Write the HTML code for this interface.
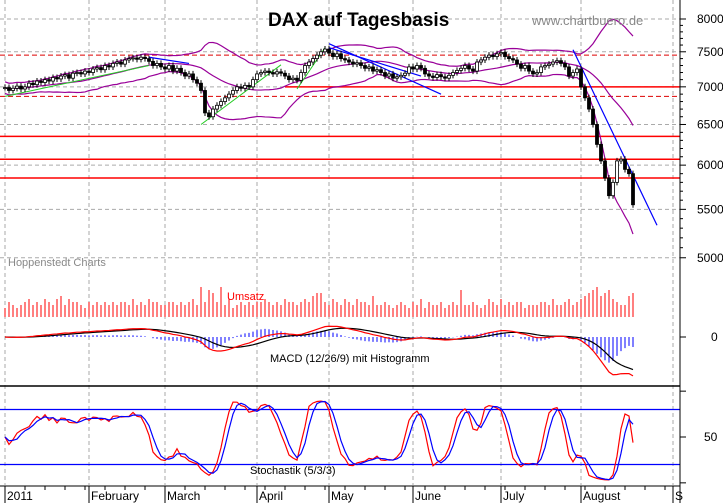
<!DOCTYPE html>
<html><head><meta charset="utf-8"><style>
html,body{margin:0;padding:0;background:#fff;}
svg{display:block;font-family:"Liberation Sans",sans-serif;}
</style></head><body>
<svg id="c" width="723" height="503" viewBox="0 0 723 503" xmlns="http://www.w3.org/2000/svg">
<rect width="723" height="503" fill="#fff"/>
<g id="grid"></g>
<g id="levels"></g>
<g id="bands"></g>
<g id="trend"></g>
<g id="candles"></g>
<g id="vol"></g>
<g id="macd"></g>
<g id="stoch"></g>
<g id="axes"></g>
<text x="268" y="26" font-size="19" font-weight="bold" fill="#000">DAX  auf Tagesbasis</text>
<text x="532" y="25" font-size="13" fill="#888">www.chartbuero.de</text>
<text x="8" y="266" font-size="11" fill="#888">Hoppenstedt Charts</text>
<text x="227" y="300" font-size="11" fill="#f00">Umsatz</text>
<text x="270" y="362" font-size="11" fill="#000">MACD (12/26/9) mit Histogramm</text>
<text x="250" y="474" font-size="11" fill="#000">Stochastik (5/3/3)</text>
</svg>
<script>
const closes=[6990,6950,6980,7010,6970,7000,7050,7030,7080,7060,7100,7080,7130,7110,7150,7170,7120,7190,7200,7180,
7220,7200,7250,7270,7240,7300,7280,7330,7350,7320,7380,7400,7410,7390,7420,7400,7360,7300,7330,7280,
7250,7300,7220,7260,7200,7150,7180,7100,7050,6950,6650,6600,6700,6750,6800,6850,6900,6950,7000,6980,
7020,7000,7100,7180,7200,7220,7200,7180,7210,7190,7150,7100,7120,7090,7200,7300,7350,7400,7450,7500,
7540,7480,7430,7470,7400,7380,7350,7320,7340,7300,7260,7280,7220,7240,7200,7150,7180,7120,7140,7160,
7190,7280,7250,7300,7260,7180,7150,7130,7170,7140,7120,7160,7200,7230,7260,7300,7250,7220,7350,7380,
7420,7450,7430,7470,7490,7430,7400,7380,7320,7260,7300,7220,7180,7200,7280,7300,7320,7350,7370,7330,
7280,7150,7200,7250,7000,6850,6700,6500,6250,6050,5850,5650,5800,6050,6070,5950,5900,5550];
const volumes=[3,5,4,3,4,5,6,4,5,4,6,5,4,6,7,4,6,5,5,4,
3,5,4,5,4,5,4,5,4,5,5,4,6,4,5,4,6,5,5,4,
4,5,5,4,5,4,5,6,4,10,5,9,8,5,10,4,6,3,4,5,
4,5,4,5,5,6,5,4,5,4,6,5,5,4,5,6,5,7,8,8,
5,4,6,5,4,6,5,4,6,5,5,4,7,4,4,5,4,3,4,5,
4,3,5,4,6,3,5,4,4,5,3,4,5,4,9,4,4,5,4,3,
4,6,5,4,6,4,5,4,5,5,3,4,4,4,5,5,4,6,4,4,
5,6,4,5,6,7,8,9,10,7,8,9,6,5,4,4,7,8];
const priceTicks=[8000,7500,7000,6500,6000,5500,5000];
const monthLabels=["2011","February","March","April","May","June","July","August","S"];
const monthStarts=[0,21,40,63,81,102,124,144,167];
const solidLevels=[7000,6350,6070,5850];
const dashedLevels=[7450,6870];
const greenLines=[[0,6870,36,7300],[49,6500,69,7310],[73,6970,80,7560]];
const blueLines=[[81,7620,109,6900],[81,7560,104,7150],[142,7530,163,5330],[36,7420,46,7330]];

const NS="http://www.w3.org/2000/svg";
function mk(tag,attrs,parent){const e=document.createElementNS(NS,tag);for(const k in attrs)e.setAttribute(k,attrs[k]);document.getElementById(parent).appendChild(e);return e;}
const X=i=>5+4*i;
const PY=v=>19+508*Math.log(8000/v);
const AX=680;

priceTicks.forEach(v=>{const l=mk('line',{x1:0,x2:AX,y1:PY(v),y2:PY(v),stroke:'#aaa','stroke-dasharray':'4,3'},'grid');

});
monthStarts.forEach(m=>{const l=mk('line',{x1:X(m),x2:X(m),y1:0,y2:485,stroke:'#aaa','stroke-dasharray':'4,3'},'grid');

});
mk('line',{x1:0,x2:AX,y1:PY(6070),y2:PY(6070),stroke:'#888'},'grid');

solidLevels.forEach((v,k)=>{const l=mk('line',{x1:k==0?X(70):0,x2:AX,y1:PY(v),y2:PY(v),stroke:'#f00','stroke-width':1.5},'levels');

});
dashedLevels.forEach(v=>{const l=mk('line',{x1:0,x2:AX,y1:PY(v),y2:PY(v),stroke:'#d00','stroke-dasharray':'5,3'},'levels');

});

const opens=closes.map((c,i)=>i?closes[i-1]:c);
const highs=closes.map((c,i)=>Math.max(c,opens[i])*1.006);
const lows=closes.map((c,i)=>Math.min(c,opens[i])*0.994);

const mid=[],up=[],lo=[];
closes.forEach((c,i)=>{const w=closes.slice(Math.max(0,i-19),i+1);const m=w.reduce((a,b)=>a+b,0)/w.length;
const sd=Math.sqrt(w.reduce((a,b)=>a+(b-m)*(b-m),0)/w.length)||30;mid.push(m);up.push(m+2*Math.max(sd,40));lo.push(m-2*Math.max(sd,40));});
[up,mid,lo].forEach((s,k)=>{const p=mk('polyline',{points:s.map((v,i)=>X(i)+','+PY(v)).join(' '),fill:'none',stroke:'#909','stroke-width':1.2},'bands');

});

greenLines.forEach(t=>{const l=mk('line',{x1:X(t[0]),y1:PY(t[1]),x2:X(t[2]),y2:PY(t[3]),stroke:'#2c2','stroke-width':1},'trend');

});
blueLines.forEach(t=>{const l=mk('line',{x1:X(t[0]),y1:PY(t[1]),x2:X(t[2]),y2:PY(t[3]),stroke:'#00f','stroke-width':1.2},'trend');

});

closes.forEach((c,i)=>{const o=opens[i],x=X(i);
const w=mk('line',{x1:x,x2:x,y1:PY(highs[i]),y2:PY(lows[i]),stroke:'#000'},'candles');


const t=Math.min(PY(o),PY(c)),h=Math.max(1,Math.abs(PY(o)-PY(c)));
const b=mk('rect',{x:x-1.5,y:t,width:3,height:h,fill:c>=o?'#fff':'#000',stroke:'#000','stroke-width':0.8},'candles');

});

volumes.forEach((v,i)=>{const r=mk('line',{x1:X(i),x2:X(i),y1:317,y2:317-v*3,stroke:'#f00','stroke-width':1},'vol');

});

function ema(a,n){const k=2/(n+1);const r=[a[0]];for(let i=1;i<a.length;i++)r.push(a[i]*k+r[i-1]*(1-k));return r;}
const e12=ema(closes,12),e26=ema(closes,26);
const macd=e12.map((v,i)=>v-e26[i]);
const sig=ema(macd,9);
const MY=v=>337-v*0.1;
macd.forEach((m,i)=>{const h=(m-sig[i])*1.6;const l=mk('line',{x1:X(i),x2:X(i),y1:337,y2:337-h*0.1,stroke:'#00f'},'macd');

});
const ps=mk('polyline',{points:sig.map((v,i)=>X(i)+','+MY(v)).join(' '),fill:'none',stroke:'#000','stroke-width':1.2},'macd');


const pm=mk('polyline',{points:macd.map((v,i)=>X(i)+','+MY(v)).join(' '),fill:'none',stroke:'#f00','stroke-width':1.2},'macd');



const SY=v=>437-(v-50)*0.917;
const raw=closes.map((c,i)=>{const lo5=Math.min(...lows.slice(Math.max(0,i-4),i+1)),hi5=Math.max(...highs.slice(Math.max(0,i-4),i+1));return (c-lo5)/(hi5-lo5)*100;});
const sma=(a,n)=>a.map((v,i)=>{const w=a.slice(Math.max(0,i-n+1),i+1);return w.reduce((p,q)=>p+q,0)/w.length;});
const kS=sma(raw,3),dS=sma(kS,3);
[80,20].forEach(v=>{const l=mk('line',{x1:0,x2:AX,y1:SY(v),y2:SY(v),stroke:'#00f','stroke-width':1.2},'stoch');

});
const pk=mk('polyline',{points:kS.map((v,i)=>X(i)+','+SY(v)).join(' '),fill:'none',stroke:'#f00','stroke-width':1.2},'stoch');


const pd=mk('polyline',{points:dS.map((v,i)=>X(i)+','+SY(v)).join(' '),fill:'none',stroke:'#00f','stroke-width':1.2},'stoch');



mk('line',{x1:0,x2:AX,y1:386,y2:386,stroke:'#000','stroke-width':1.5},'axes');
mk('line',{x1:AX,x2:AX,y1:0,y2:503,stroke:'#000'},'axes');
mk('line',{x1:0,x2:AX,y1:486,y2:486,stroke:'#000'},'axes');
for(let v=5000;v<=8000;v+=100){mk('line',{x1:AX,x2:AX+(v%500?3:6),y1:PY(v),y2:PY(v),stroke:'#000'},'axes');}
priceTicks.forEach(v=>{const t=mk('text',{x:697,y:PY(v)+4,'font-size':12,fill:'#000'},'axes');t.textContent=v;

});
[0,50,100].forEach(v=>mk('line',{x1:AX,x2:AX+6,y1:SY(v),y2:SY(v),stroke:'#000'},'axes'));
const s50=mk('text',{x:704,y:SY(50)+4,'font-size':12},'axes');s50.textContent='50';


const m0=mk('text',{x:711,y:341,'font-size':12},'axes');m0.textContent='0';


mk('line',{x1:AX,x2:AX+6,y1:337,y2:337,stroke:'#000'},'axes');
for(let i=0;i<=168;i+=5){mk('line',{x1:X(i),x2:X(i),y1:486,y2:490,stroke:'#000'},'axes');}
monthStarts.forEach((m,k)=>{mk('line',{x1:X(m),x2:X(m),y1:486,y2:503,stroke:'#000'},'axes');
const t=mk('text',{x:X(m)+2,y:500,'font-size':12},'axes');t.textContent=monthLabels[k];

});
</script>
</body></html>
